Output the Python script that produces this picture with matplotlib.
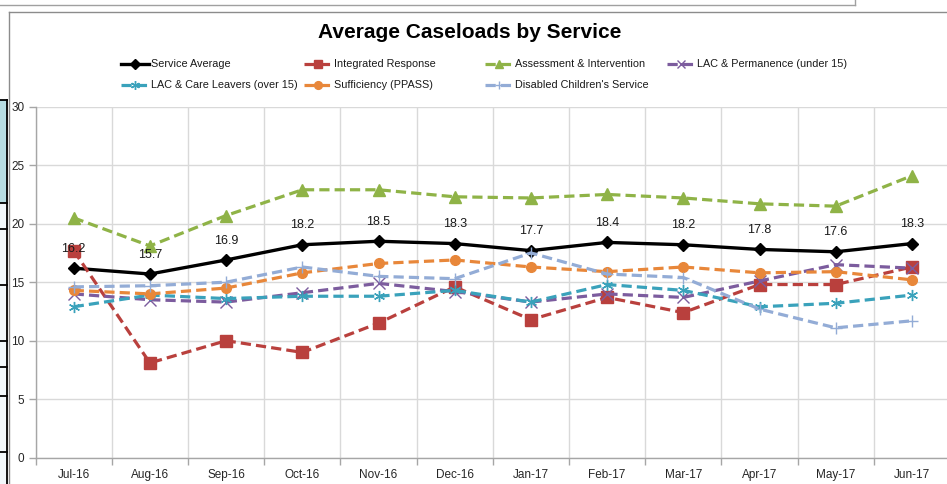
import numpy as np
import matplotlib.pyplot as plt
from matplotlib.lines import Line2D
from matplotlib.patches import Rectangle

plt.rcParams['font.family'] = ['Liberation Sans', 'DejaVu Sans']

# data
months = ['Jul-16', 'Aug-16', 'Sep-16', 'Oct-16', 'Nov-16', 'Dec-16',
          'Jan-17', 'Feb-17', 'Mar-17', 'Apr-17', 'May-17', 'Jun-17']
service_avg = [16.2, 15.7, 16.9, 18.2, 18.5, 18.3, 17.7, 18.4, 18.2, 17.8, 17.6, 18.3]
integrated = [17.7, 8.1, 10.0, 9.0, 11.5, 14.6, 11.8, 13.7, 12.4, 14.8, 14.8, 16.3]
assessment = [20.5, 18.1, 20.7, 22.9, 22.9, 22.3, 22.2, 22.5, 22.2, 21.7, 21.5, 24.1]
lac_perm = [14.0, 13.5, 13.3, 14.1, 14.9, 14.2, 13.3, 14.0, 13.7, 15.1, 16.5, 16.2]
lac_care = [12.9, 13.9, 13.6, 13.8, 13.8, 14.3, 13.3, 14.8, 14.3, 12.9, 13.2, 13.9]
sufficiency = [14.3, 14.0, 14.5, 15.8, 16.6, 16.9, 16.3, 15.9, 16.3, 15.8, 15.9, 15.2]
disabled = [14.6, 14.7, 15.0, 16.3, 15.5, 15.3, 17.5, 15.7, 15.4, 12.7, 11.1, 11.7]

W, H = 947, 484
fig = plt.figure(figsize=(W / 100, H / 100), dpi=100)

def fx(px):
    return px / W

def fy(py):
    return 1 - py / H

# bits of the spreadsheet around the chart
fig.add_artist(Line2D([0, fx(855)], [fy(5), fy(5)], color='#a0a0a0', lw=1))
fig.add_artist(Line2D([fx(855), fx(855)], [1, fy(5)], color='#a0a0a0', lw=1))
fig.add_artist(Line2D([fx(8.5), 1], [fy(11.5), fy(11.5)], color='#8c8c8c', lw=1))
fig.add_artist(Line2D([fx(8.5), fx(8.5)], [fy(11.5), 0], color='#8c8c8c', lw=1))
fig.add_artist(Rectangle((0, fy(203)), fx(7), fy(100) - fy(203), transform=fig.transFigure,
                         facecolor='#b7dde3', edgecolor='none'))
fig.add_artist(Rectangle((0, 0), fx(7), fy(203), transform=fig.transFigure,
                         facecolor='#f2f8fb', edgecolor='none'))
for yy in [100, 203, 229, 285, 341, 367, 396, 452]:
    fig.add_artist(Line2D([0, fx(7)], [fy(yy), fy(yy)], color='black', lw=1.3))
fig.add_artist(Line2D([fx(7), fx(7)], [fy(100), 0], color='black', lw=1.3))

left, right = 35.6, 950.0
top, bottom = 106.7, 457.7
ax = fig.add_axes([fx(left), fy(bottom), fx(right) - fx(left), fy(top) - fy(bottom)])
ax.set_facecolor('none')

x = np.arange(len(months))
series = [
    ('Service Average', service_avg, 'black', 'D', '-'),
    ('Integrated Response', integrated, '#b9403d', 's', '--'),
    ('Assessment & Intervention', assessment, '#8fb347', '^', '--'),
    ('LAC & Permanence (under 15)', lac_perm, '#7c5c9e', 'x', '--'),
    ('LAC & Care Leavers (over 15)', lac_care, '#3aa2bb', (6, 2, 0), '--'),
    ('Sufficiency (PPASS)', sufficiency, '#e8873a', 'o', '--'),
    ("Disabled Children's Service", disabled, '#93acd6', '+', '--'),
]

handles = {}
for name, vals, col, mk, ls in series:
    thin = mk in ('x', '+', (6, 2, 0))
    kw = dict(color=col, marker=mk, linestyle=ls, lw=2.4 if ls == '-' else 2.3,
              markersize=8 if thin else 7, markeredgewidth=1.0,
              markeredgecolor=col, markerfacecolor=col, clip_on=False)
    if ls == '--':
        kw['dashes'] = (3.2, 1.6)
    if mk in ('s', '^'):
        kw['markersize'] = 8
    if mk == 'D':
        kw['markersize'] = 6.5
    ax.plot(x, vals, **kw)
    handles[name] = kw

for xi, v in zip(x, service_avg):
    ax.annotate(f'{v:.1f}', (xi, v), xytext=(0, 14), textcoords='offset points',
                ha='center', va='center', fontsize=9, color='#1a1a1a')

ax.set_xlim(-0.5, len(months) - 0.5)
ax.set_ylim(0, 30)
ax.set_yticks(np.arange(0, 31, 5))
ax.set_xticks(np.arange(-0.5, len(months), 1.0))
ax.set_xticks(x, minor=True)
ax.set_xticklabels([])
ax.set_xticklabels(months, minor=True)
ax.tick_params(axis='x', which='major', length=5, color='#a6a6a6', width=1)
ax.tick_params(axis='x', which='minor', length=0, pad=8, labelsize=8.5, labelcolor='#262626')
ax.tick_params(axis='y', length=5, color='#a6a6a6', width=1, pad=3, labelsize=8.5,
               labelcolor='#262626')
ax.grid(True, which='major', color='#d9d9d9', lw=1)
ax.set_axisbelow(True)
for s in ['top', 'right']:
    ax.spines[s].set_visible(False)
for s in ['left', 'bottom']:
    ax.spines[s].set_color('#a6a6a6')
    ax.spines[s].set_linewidth(1)

fig.text(fx(470), fy(33), 'Average Caseloads by Service', ha='center', va='center',
         fontsize=15, fontweight='bold', color='black')

# legend drawn entry by entry to keep Excel's fixed column grid
legend_pos = {
    'Service Average': (121, 64),
    'Integrated Response': (304, 64),
    'Assessment & Intervention': (485, 64),
    'LAC & Permanence (under 15)': (667, 64),
    'LAC & Care Leavers (over 15)': (121, 85),
    'Sufficiency (PPASS)': (304, 85),
    "Disabled Children's Service": (485, 85),
}
for name, (px, py) in legend_pos.items():
    kw = dict(handles[name])
    kw.pop('clip_on')
    kw['markersize'] = kw['markersize'] * 0.8
    fig.add_artist(Line2D([fx(px), fx(px + 28)], [fy(py), fy(py)], markevery=[], **kw))
    fig.add_artist(Line2D([fx(px + 14)], [fy(py)], **{k: v for k, v in kw.items()
                                                      if k not in ('dashes', 'linestyle')},
                          linestyle='none'))
    fig.text(fx(px + 30), fy(py), name, ha='left', va='center', fontsize=7.8, color='#1a1a1a')

fig.savefig('out.png', dpi=100)
